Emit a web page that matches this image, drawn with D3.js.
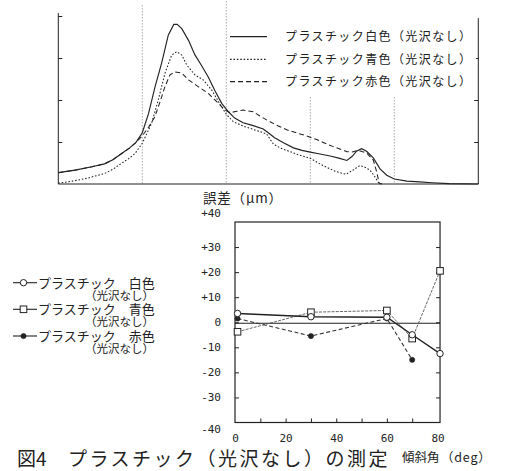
<!DOCTYPE html>
<html><head><meta charset="utf-8">
<script src="https://cdn.jsdelivr.net/npm/d3@7"></script>
<style>
html,body{margin:0;padding:0;background:#fff;}
svg{display:block;}
</style></head>
<body>
<svg id="c" width="506" height="471"></svg>
<script>
// ---------- Top chart data (relative scale) ----------
const whiteX = [0,4,8,11,13,15,17,18.5,20,21.5,23,24.6,26.2,27.5,28.3,29.4,31,32.5,34.1,35.7,37.3,38.9,40.5,42,44,46.4,48.8,50,51.5,53.6,56,58,60,62,65,67,68.7,70,71,72.2,73.4,75,76.6,78.2,80,83,86,89,93,100];
const whiteY = [0.27,0.33,0.41,0.48,0.58,0.72,0.86,0.99,1.22,1.68,2.30,2.88,3.55,3.80,3.80,3.70,3.42,3.08,2.82,2.55,2.22,1.92,1.72,1.57,1.46,1.39,1.31,1.22,1.10,0.98,0.86,0.80,0.76,0.72,0.66,0.61,0.56,0.66,0.78,0.84,0.78,0.62,0.36,0.21,0.12,0.07,0.05,0.03,0.01,0];
const blueX = [0,4,7,11,13,15,17,18.3,20,22.2,23.8,25.4,27,28.2,29.4,30.6,32.5,34.5,36.5,38.5,40,41.7,44,46.4,48,49.6,51.2,53,54.4,57,60,63,66,68.5,70,71.8,73,74.2,75.2,76.2,77];
const blueY = [0.02,0.08,0.14,0.25,0.35,0.49,0.62,0.73,0.97,1.44,2.0,2.64,3.07,3.15,3.07,2.83,2.60,2.48,2.24,1.90,1.66,1.48,1.38,1.30,1.25,1.19,0.95,0.85,0.80,0.70,0.61,0.44,0.30,0.23,0.32,0.44,0.40,0.33,0.20,0.04,0];
const redX = [0,4,8,11,13,15,17,18.5,20,21.5,23,24.2,25.4,26.6,27.8,29.4,31,33.3,35.7,38.1,39.7,40.9,42.5,44,46.4,48,50.4,52.4,54.4,58.3,61.5,63.5,65.5,68.7,70,71.4,73.4,75,75.8,76.4,77];
const redY = [0.27,0.33,0.41,0.48,0.58,0.72,0.86,0.99,1.15,1.35,1.60,1.95,2.32,2.60,2.67,2.64,2.48,2.32,2.16,1.92,1.76,1.70,1.73,1.76,1.72,1.62,1.48,1.38,1.29,1.17,1.06,0.97,0.89,0.77,0.76,0.80,0.74,0.57,0.29,0.02,0];
const topGrid = [20,40,60,80];
const topLegend = ["プラスチック白色（光沢なし）","プラスチック青色（光沢なし）","プラスチック赤色（光沢なし）"];

// ---------- Bottom chart data ----------
const whiteAngle = [1,30,60,70,81];
const whiteErr   = [3.5,2.2,2.0,-5.0,-12.5];
const blueAngle  = [1,30,60,70,81];
const blueErr    = [-3.8,4.0,4.7,-6.5,20.5];
const redAngle   = [1,30,60,70];
const redErr     = [1.5,-5.5,1.5,-15.0];
const yTicksB = [40,30,20,10,0,-10,-20,-30,-40];
const xTicksB = [0,20,40,60,80];
const bottomLegend = ["プラスチック　白色","プラスチック　青色","プラスチック　赤色"];
const subLegend = "（光沢なし）";

const svg = d3.select("#c");
const ink = "#222";

// ================= TOP CHART =================
const xT = d3.scaleLinear().domain([0,100]).range([58.3,478.3]);
const yT = d3.scaleLinear().domain([0,4]).range([184,16]);
const gT = svg.append("g");

gT.selectAll("line.grid").data(topGrid).enter().append("line")
  .attr("x1", d=>xT(d)).attr("x2", d=>xT(d))
  .attr("y1", d=> d<=20 ? 5 : 1).attr("y2", yT(0))
  .attr("stroke","#888").attr("stroke-width",0.7).attr("stroke-dasharray","1.5,1.5");

const axL = gT.append("g").attr("transform",`translate(${xT(0)},0)`)
  .call(d3.axisLeft(yT).tickValues([1,2,3,4]).tickSize(-4).tickFormat(""));
axL.select(".domain").remove();
gT.append("line").attr("x1",xT(0)).attr("x2",xT(0)).attr("y1",yT(4.07)).attr("y2",yT(0)).attr("stroke",ink).attr("stroke-width",1);
const axR = gT.append("g").attr("transform",`translate(${xT(100)},0)`)
  .call(d3.axisRight(yT).tickValues([1,2,3]).tickSize(-4).tickFormat(""));
axR.select(".domain").remove();
gT.append("line").attr("x1",xT(100)).attr("x2",xT(100)).attr("y1",yT(3.95)).attr("y2",yT(0)).attr("stroke",ink).attr("stroke-width",1);
gT.append("line").attr("x1",xT(0)).attr("x2",xT(100)).attr("y1",yT(0)).attr("y2",yT(0)).attr("stroke",ink).attr("stroke-width",1.2);
gT.selectAll(".tick line").attr("stroke",ink);

const lineT = (xs,ys)=> d3.line().x((d,i)=>xT(xs[i])).y((d,i)=>yT(ys[i]))(ys);
const topStyles = [
  {dash:null, w:1.15},
  {dash:"1.6,1.8", w:1.05},
  {dash:"5,3", w:1.05}
];
gT.append("path").attr("d",lineT(redX,redY)).attr("fill","none").attr("stroke",ink).attr("stroke-width",topStyles[2].w).attr("stroke-dasharray",topStyles[2].dash);
gT.append("path").attr("d",lineT(blueX,blueY)).attr("fill","none").attr("stroke",ink).attr("stroke-width",topStyles[1].w).attr("stroke-dasharray",topStyles[1].dash);
gT.append("path").attr("d",lineT(whiteX,whiteY)).attr("fill","none").attr("stroke",ink).attr("stroke-width",topStyles[0].w);

const legT = gT.append("g");
legT.append("rect").attr("x",229).attr("y",0).attr("width",247).attr("height",97).attr("fill","#fff");
const legYs = [36.7,59.3,81.7];
topLegend.forEach((t,i)=>{
  legT.append("line").attr("x1",230).attr("x2",267).attr("y1",legYs[i]).attr("y2",legYs[i])
    .attr("stroke",ink).attr("stroke-width",1.2).attr("stroke-dasharray",topStyles[i].dash);
  legT.append("text").attr("x",285).attr("y",legYs[i]+4.5).text(t)
    .attr("font-family","'Noto Sans CJK JP'").attr("font-size",12).attr("letter-spacing",1.4).attr("fill",ink);
});

// ================= BOTTOM CHART =================
const xB = d3.scaleLinear().domain([0,80]).range([235,437.5]);
const yB = d3.scaleLinear().domain([-40,40]).range([422.5,222]);
const gB = svg.append("g");
const mono = "'DejaVu Sans Mono'";

gB.append("rect").attr("x",xB(0)).attr("y",yB(40)).attr("width",xB(81)-xB(0)).attr("height",yB(-40)-yB(40))
  .attr("fill","none").attr("stroke",ink).attr("stroke-width",1.2);

const fmt = d => d>0 ? "+"+d : (d===0 ? "0" : "-"+Math.abs(d));
const aL = gB.append("g").attr("transform",`translate(${xB(0)},0)`)
  .call(d3.axisLeft(yB).tickValues(yTicksB).tickSize(0).tickPadding(14).tickFormat(fmt));
aL.select(".domain").remove();
aL.selectAll("text").attr("font-family",mono).attr("font-size",11).attr("fill",ink)
  .attr("dy", d => d===40 ? "-0.5em" : d===-40 ? "0.95em" : "0.32em");
const tL = gB.append("g").attr("transform",`translate(${xB(0)},0)`)
  .call(d3.axisLeft(yB).tickValues([30,20,10,0,-10,-20,-30]).tickSize(-4).tickFormat(""));
tL.select(".domain").remove();
const tR = gB.append("g").attr("transform",`translate(${xB(81)},0)`)
  .call(d3.axisRight(yB).tickValues([30,20,10,0,-10,-20,-30]).tickSize(-4).tickFormat(""));
tR.select(".domain").remove();
const aB = gB.append("g").attr("transform",`translate(0,${yB(-40)})`)
  .call(d3.axisBottom(xB).tickValues(xTicksB).tickSize(0).tickPadding(12).tickFormat(d=>String(d)));
aB.select(".domain").remove();
aB.selectAll("text").attr("font-family",mono).attr("font-size",11).attr("fill",ink);
const tB = gB.append("g").attr("transform",`translate(0,${yB(-40)})`)
  .call(d3.axisBottom(xB).tickValues([10,20,30,40,50,60,70]).tickSize(-4).tickFormat(""));
tB.select(".domain").remove();
gB.selectAll(".tick line").attr("stroke",ink);

gB.append("line").attr("x1",xB(0)).attr("x2",xB(81)).attr("y1",yB(-0.4)).attr("y2",yB(-0.4)).attr("stroke",ink).attr("stroke-width",1);

const lineB = (xs,ys)=> d3.line().x((d,i)=>xB(xs[i])).y((d,i)=>yB(ys[i]))(ys);
const bStyles = [
  {dash:null, w:1.4, c:"#222"},
  {dash:"3,1.2", w:0.9, c:"#555"},
  {dash:"4,2.5", w:1.1, c:"#333"}
];
gB.append("path").attr("d",lineB(blueAngle,blueErr)).attr("fill","none").attr("stroke",bStyles[1].c).attr("stroke-width",bStyles[1].w).attr("stroke-dasharray",bStyles[1].dash);
gB.append("path").attr("d",lineB(redAngle,redErr)).attr("fill","none").attr("stroke",bStyles[2].c).attr("stroke-width",bStyles[2].w).attr("stroke-dasharray",bStyles[2].dash);
gB.append("path").attr("d",lineB(whiteAngle,whiteErr)).attr("fill","none").attr("stroke",bStyles[0].c).attr("stroke-width",bStyles[0].w);

function marker(g, type, x, y){
  if(type===0) g.append("circle").attr("cx",x).attr("cy",y).attr("r",3.2).attr("fill","#fff").attr("stroke",ink).attr("stroke-width",1);
  else if(type===1) g.append("rect").attr("x",x-3.3).attr("y",y-3.3).attr("width",6.6).attr("height",6.6).attr("fill","#fff").attr("stroke",ink).attr("stroke-width",1);
  else g.append("circle").attr("cx",x).attr("cy",y).attr("r",2.6).attr("fill",ink).attr("stroke",ink).attr("stroke-width",0.6);
}
redAngle.forEach((a,i)=>marker(gB,2,xB(a),yB(redErr[i])));
blueAngle.forEach((a,i)=>marker(gB,1,xB(a),yB(blueErr[i])));
whiteAngle.forEach((a,i)=>marker(gB,0,xB(a),yB(whiteErr[i])));

gB.append("text").attr("x",203).attr("y",203).text("誤差（μm）")
  .attr("font-family","'Noto Sans CJK JP'").attr("font-size",13.5).attr("letter-spacing",0.8).attr("fill",ink);

// bottom legend (each entry one text with two lines)
const legB = svg.append("g");
const legBY = [282.7,309.3,336];
bottomLegend.forEach((t,i)=>{
  const y = legBY[i];
  legB.append("line").attr("x1",13).attr("x2",37).attr("y1",y).attr("y2",y).attr("stroke",ink).attr("stroke-width",1.1);
  marker(legB,i,23.5,y);
  const tx = legB.append("text").attr("font-family","'Noto Sans CJK JP'").attr("fill",ink);
  tx.append("tspan").attr("x",38).attr("y",y+5).attr("font-size",13).text(t);
  tx.append("tspan").attr("x",85).attr("y",y+17).attr("font-size",11.5).text(subLegend);
});

// captions
const cap = svg.append("g");
cap.append("text").attr("x",17).attr("y",466).text("図4")
  .attr("font-family","'Noto Sans CJK JP'").attr("font-size",19).attr("fill",ink);
cap.append("text").attr("x",68).attr("y",466).text("プラスチック（光沢なし）の測定")
  .attr("font-family","'Noto Sans CJK JP'").attr("font-size",19).attr("letter-spacing",2.5).attr("fill",ink);
cap.append("text").attr("x",402).attr("y",462).text("傾斜角")
  .attr("font-family","'Noto Sans CJK JP'").attr("font-size",12.5).attr("fill",ink);
cap.append("text").attr("x",441).attr("y",462).text("（deg）")
  .attr("font-family","'Noto Sans CJK JP'").attr("font-size",12.5).attr("letter-spacing",0.8).attr("fill",ink);
</script>
</body></html>
